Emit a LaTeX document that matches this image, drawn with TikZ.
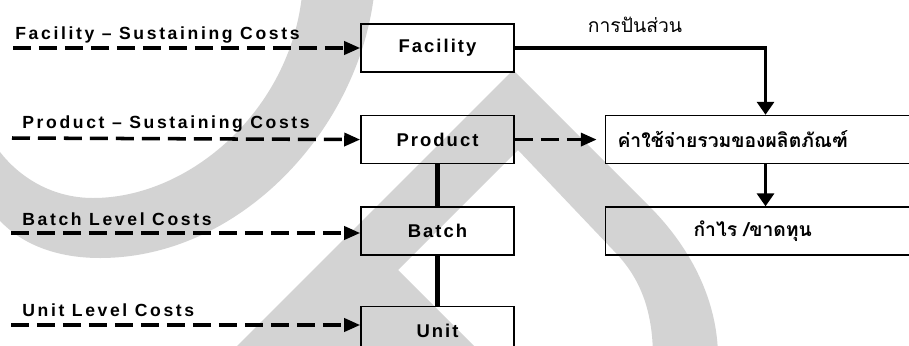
\documentclass[tikz,border=0pt]{standalone}
\usepackage{fontspec}
\setmainfont{Liberation Sans}
\newfontfamily\labelfont[LetterSpace=15]{Liberation Sans}
\newfontfamily\boxfont[LetterSpace=11]{Liberation Sans}
\newfontfamily\thaifont[Script=Thai]{Loma}
\usetikzlibrary{arrows.meta,positioning}
\definecolor{markgray}{RGB}{211,211,211}
\tikzset{
    %Define standard arrow tip
    >={Triangle[length=0.32cm,width=0.26cm]},
    %Define style for boxes
    box/.style={
           rectangle,
           draw=black, line width=0.9pt,
           minimum width=3.06cm,
           minimum height=0.96cm,
           inner sep=0pt,
           font={\boxfont\bfseries\fontsize{10.5}{12}\selectfont}},
    widebox/.style={
           rectangle,
           draw=black, line width=0.9pt,
           minimum height=0.96cm,
           inner ysep=0pt,
           align=left,
           font={\thaifont\bfseries\fontsize{11}{13}\selectfont}},
    costlabel/.style={
           anchor=base west,
           inner sep=0pt,
           font={\labelfont\bfseries\fontsize{10}{12}\selectfont}},
    % Define arrow style
    costflow/.style={
           ->,
           line width=2pt,
           dash pattern=on 0.36cm off 0.16cm},
    allocate/.style={
           -{Triangle[length=0.26cm,width=0.34cm]},
           line width=2pt},
    link/.style={
           line width=2.6pt}
}

\begin{document}
\begin{tikzpicture}[x=0.02cm, y=-0.02cm, node distance=0.84cm]
    \useasboundingbox (0,0) rectangle (909,345);
    \clip (0,0) rectangle (909,345);
 %watermark
    \fill[markgray] (374,-5) .. controls (358,130) and (240,258) .. (100,258)
        .. controls (50,258) and (15,240) .. (-5,215) -- (-5,145)
        .. controls (15,175) and (50,198) .. (93,198)
        .. controls (190,198) and (290,110) .. (302,-5) -- cycle;
    \fill[markgray] (513,70) -- (225,358) -- (486,358) -- (398,270) -- (518,150)
        -- (613,250) .. controls (640,277) and (653,310) .. (653,358) -- (718,358)
        .. controls (718,290) and (680,237) .. (650,207) -- cycle;
 %nodes
    \node[box] (fac) at (437.5,48) {Facility};
    \node[box, below=of fac] (prod) {Product};
    \node[box, below=of prod] (batch) {Batch};
    \node[box, below=1.0cm of batch] (unit) {Unit};
    \node[widebox, inner xsep=0.24cm, text width=5.92cm, right=1.8cm of prod] (cost) {ค่าใช้จ่ายรวมของผลิตภัณฑ์};
    \node[widebox, inner xsep=1.76cm, text width=2.88cm, below=of cost] (profit) {กำไร /ขาดทุน};
    \node[anchor=base, inner sep=0pt, font={\thaifont\fontsize{11}{13}\selectfont}] (share) at (635,32) {การปันส่วน};
 %cost labels
    \node[costlabel] (lblfac) at (15,39) {Facility – Sustaining Costs};
    \node[costlabel] (lblprod) at (22,128) {Product – Sustaining Costs};
    \node[costlabel] (lblbatch) at (22,225) {Batch Level Costs};
    \node[costlabel] (lblunit) at (22,316) {Unit Level Costs};
    \coordinate (infac) at (13,48);
    \coordinate (inprod) at (12,138);
    \coordinate (inbatch) at (11,233);
    \coordinate (inunit) at (11,325);
 %edges
    \draw[costflow] (infac) -- (fac.west);
    \draw[costflow] (inprod) -- (prod.west);
    \draw[costflow] (inbatch) -- (inbatch -| batch.west);
    \draw[costflow] (inunit) -- (inunit -| unit.west);
    \draw[costflow, shorten >=0.16cm] (prod.east) -- (cost.west);
    \draw[allocate] (fac.east) -| (cost.north);
    \draw[allocate] (cost.south) -- (profit.north);
    \draw[link] (prod.south) -- (batch.north);
    \draw[link] (batch.south) -- (unit.north);
\end{tikzpicture}
\end{document}
